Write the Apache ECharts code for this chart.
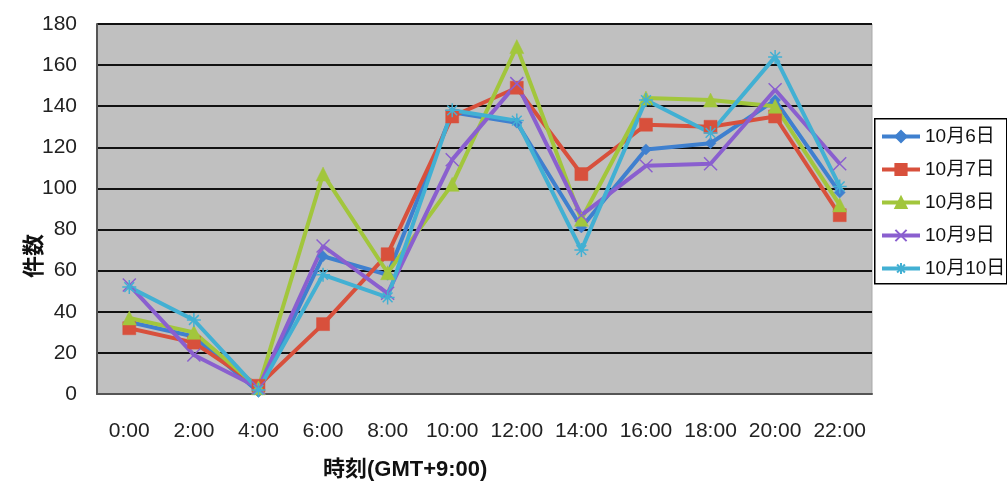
<!DOCTYPE html>
<html>
<head>
<meta charset="utf-8">
<script src="https://cdn.jsdelivr.net/npm/echarts@6/dist/echarts.min.js"></script>
<style>
  html, body { margin: 0; padding: 0; background: #fff; }
  #main { width: 1007px; height: 488px; }
</style>
</head>
<body>
<div id="main"></div>
<script>
var hours = ['0:00', '2:00', '4:00', '6:00', '8:00', '10:00', '12:00', '14:00', '16:00', '18:00', '20:00', '22:00'];
var yTicks = [0, 20, 40, 60, 80, 100, 120, 140, 160, 180];

var oct6 = [35, 28, 1, 67, 58, 137, 132, 81, 119, 122, 143, 98];
var oct7 = [32, 25, 4, 34, 68, 135, 149, 107, 131, 130, 135, 87];
var oct8 = [37, 30, 3, 107, 59, 102, 169, 85, 144, 143, 140, 92];
var oct9 = [53, 19, 3, 72, 49, 114, 151, 87, 111, 112, 148, 112];
var oct10 = [52, 36, 2, 58, 47, 138, 133, 70, 143, 127, 164, 101];

var names = ['10月6日', '10月7日', '10月8日', '10月9日', '10月10日'];
var colors = ['#3f80cf', '#d8503c', '#a2c63c', '#8a5fcf', '#42b0d3'];

var FONT = '"Liberation Sans", "Noto Sans CJK JP", sans-serif';

var X_PATH = 'path://M0,0L10,10M10,0L0,10';
var STAR_PATH = 'path://M5,0L5,10M0,5L10,5M1.5,1.5L8.5,8.5M8.5,1.5L1.5,8.5';

function makeSeries(i, data, symbol, size, hollow) {
  return {
    name: names[i],
    type: 'line',
    data: data,
    symbol: symbol,
    symbolSize: size,
    showAllSymbol: true,
    lineStyle: { color: colors[i], width: 4 },
    itemStyle: hollow
      ? { color: colors[i], borderColor: colors[i], borderWidth: 1.5 }
      : { color: colors[i], borderColor: colors[i], borderWidth: 0.5 },
    emphasis: { disabled: true },
    animation: false
  };
}

var chart = echarts.init(document.getElementById('main'));
var option = {
  backgroundColor: '#ffffff',
  animation: false,
  grid: {
    left: 97,
    top: 24,
    right: 135,
    bottom: 94,
    show: true,
    backgroundColor: '#c0c0c0',
    borderColor: '#a9a9a9',
    borderWidth: 1
  },
  legend: {
    orient: 'vertical',
    left: 875,
    top: 122,
    itemWidth: 38,
    itemHeight: 14,
    itemGap: 14,
    lineStyle: { width: 4 },
    textStyle: { fontFamily: FONT, fontSize: 19, color: '#111' },
    data: names
  },
  xAxis: {
    type: 'category',
    data: hours,
    boundaryGap: true,
    axisLine: { show: true, lineStyle: { color: '#555', width: 2 } },
    axisTick: { show: false },
    axisLabel: { interval: 0, hideOverlap: false, margin: 27, fontFamily: FONT, fontSize: 21, color: '#222' },
    splitLine: { show: false }
  },
  yAxis: {
    type: 'value',
    min: yTicks[0],
    max: yTicks[yTicks.length - 1],
    interval: 20,
    axisLine: { show: true, lineStyle: { color: '#555', width: 2 } },
    axisTick: { show: false },
    axisLabel: { margin: 20, fontFamily: FONT, fontSize: 21, color: '#222' },
    splitLine: { show: true, lineStyle: { color: '#111', width: 2 } }
  },
  graphic: [
    {
      type: 'rect',
      left: 874,
      top: 118,
      shape: { width: 132, height: 165 },
      style: { fill: '#fff', stroke: '#000', lineWidth: 1.5 },
      z: 0
    },
    {
      type: 'text',
      left: 323,
      top: 459,
      style: { text: '時刻(GMT+9:00)', fontFamily: FONT, fontSize: 22, fontWeight: 'bold', fill: '#111' }
    },
    {
      type: 'text',
      x: 35,
      y: 256,
      rotation: Math.PI / 2,
      style: { text: '件数', fontFamily: FONT, fontSize: 22, fontWeight: 'bold', fill: '#111', align: 'center', verticalAlign: 'middle' }
    }
  ],
  series: [
    makeSeries(0, oct6, 'diamond', 11, false),
    makeSeries(1, oct7, 'rect', 13, false),
    makeSeries(2, oct8, 'triangle', 14, false),
    makeSeries(3, oct9, X_PATH, 13, true),
    makeSeries(4, oct10, STAR_PATH, 14, true)
  ]
};
chart.setOption(option);
</script>
</body>
</html>
